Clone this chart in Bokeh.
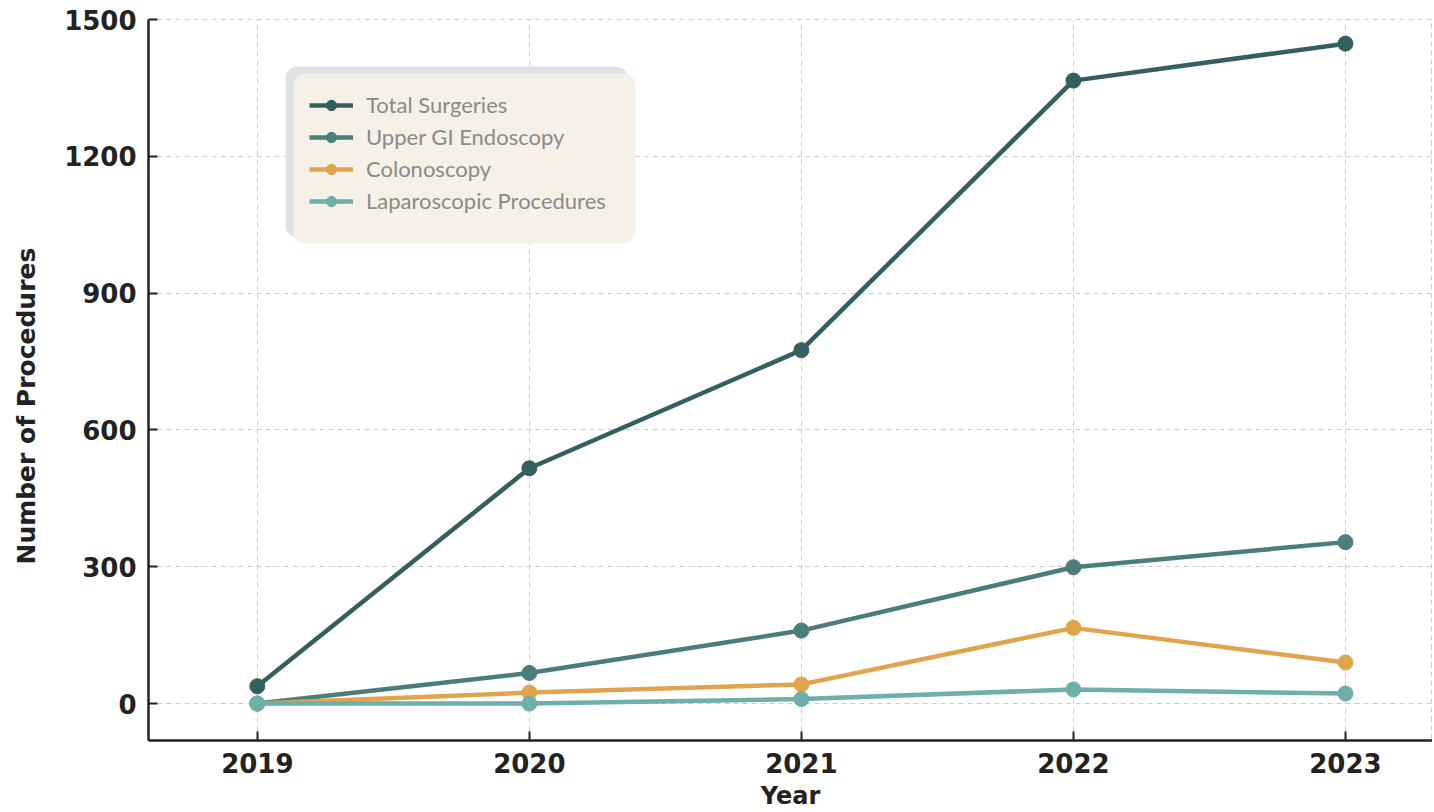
from bokeh.plotting import figure
from bokeh.models import FixedTicker, Legend, LegendItem, BoxAnnotation, Range1d
from bokeh.embed import file_html
from bokeh.resources import INLINE

years = [2019, 2020, 2021, 2022, 2023]
total_surgeries = [38, 516, 775, 1366, 1447]
upper_gi = [0, 67, 160, 299, 354]
colonoscopy = [0, 24, 42, 166, 90]
laparoscopic = [0, 0, 10, 31, 22]

series_names = ["Total Surgeries", "Upper GI Endoscopy", "Colonoscopy", "Laparoscopic Procedures"]
series_values = [total_surgeries, upper_gi, colonoscopy, laparoscopic]
colors = ["#33605f", "#4b7d7a", "#e0a44c", "#6eaeab"]
y_ticks = [0, 300, 600, 900, 1200, 1500]

AX_FONT = "DejaVu Sans"
LEG_FONT = "Lato"
X0, X1 = 2018.6, 2023.32
Y0, Y1 = -81, 1500

p = figure(width=1432, height=812, output_backend="svg", toolbar_location=None,
           x_range=Range1d(X0, X1), y_range=Range1d(Y0, Y1),
           min_border_left=148, min_border_top=19, min_border_right=0, min_border_bottom=72)
p.background_fill_color = "white"
p.border_fill_color = "white"
p.outline_line_color = "#cccccc"
p.outline_line_dash = "5 4"
p.outline_line_width = 1

for ax in (p.xaxis[0], p.yaxis[0]):
    ax.axis_line_color = "#222222"
    ax.axis_line_width = 2.5
    ax.major_tick_line_color = "#222222"
    ax.major_tick_line_width = 2
    ax.major_tick_in = 9
    ax.major_tick_out = 0
    ax.minor_tick_line_color = None
    ax.major_label_text_font = AX_FONT
    ax.major_label_text_font_style = "bold"
    ax.major_label_text_font_size = "26px"
    ax.major_label_text_color = "#222222"
    ax.axis_label_text_font = AX_FONT
    ax.axis_label_text_font_style = "bold"
    ax.axis_label_text_color = "#222222"

p.xaxis.ticker = FixedTicker(ticks=years)
p.yaxis.ticker = FixedTicker(ticks=y_ticks)
p.xaxis.axis_label = "Year"
p.yaxis.axis_label = "Number of Procedures" + "\u00a0" * 6
p.xaxis.axis_label_text_font_size = "24px"
p.yaxis.axis_label_text_font_size = "25px"
p.xaxis.major_label_standoff = 12
p.xaxis.axis_label_standoff = 6
p.yaxis.major_label_standoff = 12
p.yaxis.axis_label_standoff = 20

for g in (p.xgrid[0], p.ygrid[0]):
    g.grid_line_color = "#cccccc"
    g.grid_line_dash = "5 4"
    g.grid_line_width = 1

# legend backgrounds (positions in pixels relative to the frame, converted to data units)
FW, FH = 1284, 721
def dx(px):
    return X0 + px * (X1 - X0) / FW
def dy(py):
    return Y1 - py * (Y1 - Y0) / FH

shadow = BoxAnnotation(left=dx(137), right=dx(479), top=dy(47), bottom=dy(218),
                       fill_color="#e1e2e5", fill_alpha=1, line_color=None, border_radius=12, level="underlay")
panel = BoxAnnotation(left=dx(145), right=dx(487), top=dy(54), bottom=dy(224),
                      fill_color="#f5f1e6", fill_alpha=1, line_color=None, border_radius=12, level="underlay")
p.add_layout(shadow)
p.add_layout(panel)

items = []
for name, vals, col in zip(series_names, series_values, colors):
    l = p.line(years, vals, line_color=col, line_width=4.5)
    s = p.scatter(years, vals, size=15, fill_color=col, line_color=col)
    items.append(LegendItem(label=name, renderers=[l, s]))

legend = Legend(items=items, location=(161, 526), padding=15, margin=0,
                background_fill_alpha=0, border_line_color=None,
                label_text_font=LEG_FONT, label_text_font_size="22px", label_text_color="#8a8a8a",
                label_height=26, glyph_height=26, glyph_width=44, spacing=5, label_standoff=13)
p.add_layout(legend)

open("out.html", "w").write(file_html(p, INLINE))
